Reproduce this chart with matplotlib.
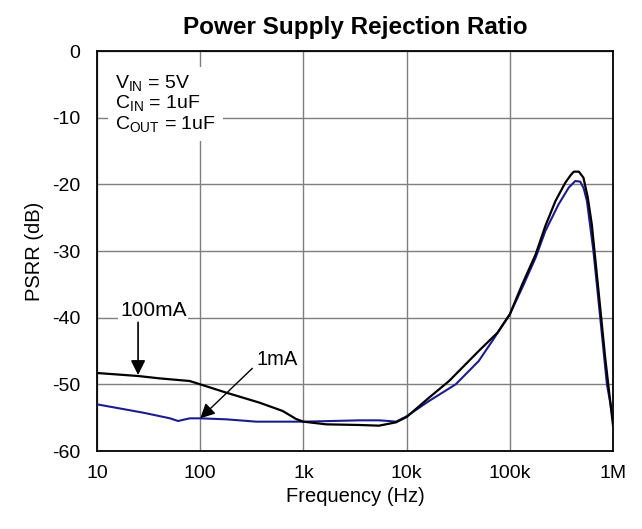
import matplotlib.pyplot as plt

plt.rcParams["font.family"] = ["Liberation Sans", "DejaVu Sans"]
plt.rcParams["mathtext.fontset"] = "custom"
plt.rcParams["mathtext.rm"] = "Liberation Sans"
plt.rcParams["axes.unicode_minus"] = False

# 100mA curve (black)
freq_100ma = [10, 25, 40, 79, 100, 179, 376, 630, 850, 1000, 1660, 3500, 5400,
              7900, 10000, 16500, 25800, 50000, 76000, 100000, 132000, 178000,
              221000, 277000, 345000, 390000, 417000, 467000, 517000, 570000,
              623000, 724000, 840000, 1000000]
psrr_100ma = [-48.3, -48.75, -49.1, -49.5, -50.0, -51.25, -52.75, -54.0, -55.2,
              -55.6, -56.0, -56.1, -56.2, -55.7, -54.9, -52.0, -49.5, -45.0,
              -42.25, -39.5, -35.0, -30.5, -26.25, -22.5, -19.75, -18.6, -18.1,
              -18.1, -19.0, -22.0, -26.0, -36.0, -46.0, -56.2]

# 1mA curve (blue)
freq_1ma = [10, 28, 51, 61, 79, 100, 179, 350, 1000, 3500, 5400, 6700, 7900,
            10000, 16500, 29900, 50000, 67600, 100000, 132000, 178000, 221000,
            297000, 372000, 431000, 482000, 520000, 559000, 646000, 752000,
            873000, 1000000]
psrr_1ma = [-53.0, -54.25, -55.1, -55.5, -55.1, -55.1, -55.25, -55.6, -55.6,
            -55.4, -55.4, -55.5, -55.6, -54.8, -52.5, -50.0, -46.5, -43.5,
            -39.5, -35.5, -31.0, -27.0, -23.0, -20.5, -19.5, -19.6, -20.6,
            -22.5, -30.0, -40.0, -50.0, -55.0]

xticks = [10, 100, 1000, 10000, 100000, 1000000]
xtick_labels = ["10", "100", "1k", "10k", "100k", "1M"]
yticks = [0, -10, -20, -30, -40, -50, -60]

fig = plt.figure(figsize=(6.42, 5.29), dpi=100)
ax = fig.add_axes([97 / 642, 1 - 451 / 529, 516 / 642, 400 / 529])

ax.plot(freq_1ma, psrr_1ma, color="#1c1c8c", lw=1.5, zorder=3)
ax.plot(freq_100ma, psrr_100ma, color="black", lw=1.6, zorder=4)

ax.set_xscale("log")
ax.set_xlim(10, 1e6)
ax.set_ylim(-60, 0)
ax.set_xticks(xticks)
ax.set_xticklabels(xtick_labels)
ax.minorticks_off()
ax.set_yticks(yticks)
ax.tick_params(length=0, labelsize=14)
ax.tick_params(axis="x", pad=10)
ax.tick_params(axis="y", pad=12)
ax.grid(True, color="#7f7f7f", lw=1.0)
for s in ax.spines.values():
    s.set_linewidth(1.3)

ax.set_title("Power Supply Rejection Ratio", fontsize=17.5, fontweight="bold", pad=12)
ax.set_xlabel("Frequency (Hz)", fontsize=14.5, labelpad=4)
ax.set_ylabel("PSRR (dB)", fontsize=14.5, labelpad=6)

ax.text(15, -3.4,
        "V$_{\\mathrm{IN}}$ = 5V\nC$_{\\mathrm{IN}}$ = 1uF\nC$_{\\mathrm{OUT}}$ = 1uF",
        fontsize=14, va="top", ha="left", linespacing=1.0, zorder=5,
        bbox=dict(boxstyle="square,pad=0.35", fc="white", ec="none"))

ax.text(35, -39, "100mA", fontsize=15, ha="center", va="center", zorder=6,
        bbox=dict(boxstyle="square,pad=0.1", fc="white", ec="none"))
ax.annotate("", xy=(25, -48.6), xytext=(25, -40.7), zorder=6,
            arrowprops=dict(arrowstyle="-|>", color="black", lw=1.2,
                            mutation_scale=22, shrinkA=0, shrinkB=0))
ax.text(560, -46.2, "1mA", fontsize=14.5, ha="center", va="center", zorder=6,
        bbox=dict(boxstyle="square,pad=0.1", fc="white", ec="none"))
ax.annotate("", xy=(100, -55.1), xytext=(320, -47.6), zorder=6,
            arrowprops=dict(arrowstyle="-|>", color="black", lw=1.0,
                            mutation_scale=22, shrinkA=0, shrinkB=0))

fig.savefig("out.png", dpi=100)
